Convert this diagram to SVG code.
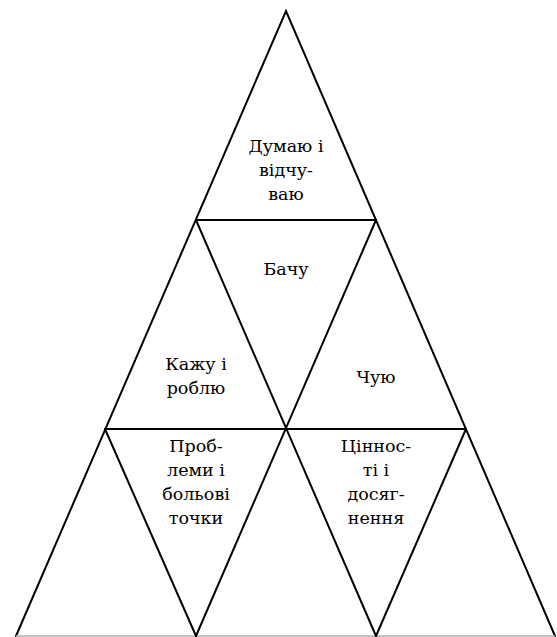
<svg xmlns="http://www.w3.org/2000/svg" width="557" height="637" viewBox="0 0 557 637">
<style>
.l{stroke:#000;stroke-width:2;fill:none;stroke-linecap:round}
.b{stroke:#b0b0b0;stroke-width:1.5;fill:none}
text{font-family:"DejaVu Serif",serif;font-size:17.5px;fill:#000;text-anchor:middle}
</style>
<rect width="557" height="637" fill="#fff"/>
<g id="connectors">
<polyline class="l" points="16,636 286,11 555,636"/>
<line class="b" x1="16" y1="636" x2="555" y2="636"/>
<line class="l" x1="196" y1="220" x2="376" y2="220"/>
<line class="l" x1="105" y1="429" x2="466" y2="429"/>
<line class="l" x1="196" y1="220" x2="376" y2="636"/>
<line class="l" x1="376" y1="220" x2="196" y2="636"/>
<line class="l" x1="105" y1="429" x2="196" y2="636"/>
<line class="l" x1="466" y1="429" x2="376" y2="636"/>
</g>
<g id="think"><text x="286" y="152">Думаю і</text><text x="286" y="176">відчу-</text><text x="286" y="200">ваю</text></g>
<g id="see"><text x="286" y="275">Бачу</text></g>
<g id="say"><text x="196" y="370">Кажу і</text><text x="196" y="394">роблю</text></g>
<g id="hear"><text x="376" y="383">Чую</text></g>
<g id="pains"><text x="196" y="452">Проб-</text><text x="196" y="476">леми і</text><text x="196" y="500">больові</text><text x="196" y="524">точки</text></g>
<g id="gains"><text x="376" y="452">Ціннос-</text><text x="376" y="476">ті і</text><text x="376" y="500">досяг-</text><text x="376" y="524">нення</text></g>
</svg>
